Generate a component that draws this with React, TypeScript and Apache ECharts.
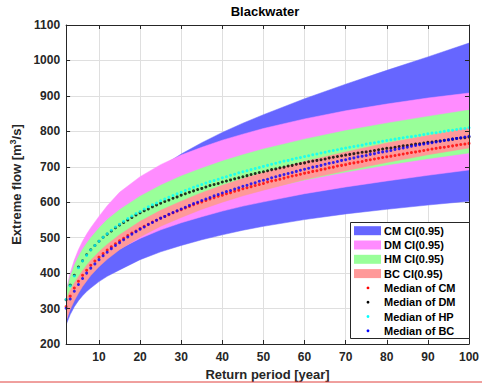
import React, { useEffect, useRef } from 'react';
import * as echarts from 'echarts';

// Return periods (years) at which the medians are plotted
const returnYears: number[] = Array.from({ length: 99 }, (_, i) => i + 2);

// Median quantile estimates [m^3/s], one per return period 2..100
const cmMedian = [
  306, 335, 358, 377, 394, 408, 422, 434, 445, 455,
  465, 474, 483, 491, 498, 506, 513, 519, 526, 532,
  538, 544, 549, 555, 560, 565, 570, 575, 579, 584,
  588, 593, 597, 601, 605, 609, 613, 617, 620, 624,
  627, 631, 634, 638, 641, 644, 647, 650, 653, 657,
  660, 662, 665, 668, 671, 674, 676, 679, 682, 684,
  687, 689, 692, 694, 697, 699, 702, 704, 706, 709,
  711, 713, 715, 718, 720, 722, 724, 726, 728, 730,
  732, 734, 736, 738, 740, 742, 744, 746, 748, 750,
  752, 754, 755, 757, 759, 761, 763, 764, 766,
];
const dmMedian = [
  325, 366, 394, 417, 435, 452, 466, 478, 490, 501,
  510, 519, 528, 536, 543, 550, 557, 564, 570, 576,
  581, 587, 592, 597, 602, 606, 611, 615, 620, 624,
  628, 632, 636, 639, 643, 647, 650, 653, 657, 660,
  663, 666, 669, 672, 675, 678, 681, 684, 686, 689,
  692, 694, 697, 699, 702, 704, 707, 709, 711, 714,
  716, 718, 720, 722, 725, 727, 729, 731, 733, 735,
  737, 739, 741, 742, 744, 746, 748, 750, 752, 753,
  755, 757, 759, 760, 762, 764, 765, 767, 769, 770,
  772, 773, 775, 776, 778, 780, 781, 782, 784,
];
const hpMedian = [
  326, 364, 392, 415, 434, 450, 465, 478, 490, 501,
  511, 521, 530, 538, 546, 554, 561, 568, 574, 581,
  587, 593, 598, 604, 609, 614, 619, 624, 628, 633,
  637, 642, 646, 650, 654, 658, 661, 665, 669, 672,
  676, 679, 683, 686, 689, 692, 695, 698, 701, 704,
  707, 710, 713, 716, 718, 721, 724, 726, 729, 731,
  734, 736, 739, 741, 744, 746, 748, 751, 753, 755,
  757, 759, 761, 764, 766, 768, 770, 772, 774, 776,
  778, 780, 782, 784, 785, 787, 789, 791, 793, 795,
  796, 798, 800, 802, 803, 805, 807, 808, 810,
];
const bcMedian = [
  301, 327, 349, 368, 385, 400, 414, 426, 438, 449,
  459, 469, 478, 486, 494, 502, 510, 517, 524, 530,
  537, 543, 549, 555, 560, 566, 571, 576, 581, 586,
  591, 596, 600, 605, 609, 613, 618, 622, 626, 630,
  633, 637, 641, 645, 648, 652, 655, 659, 662, 665,
  669, 672, 675, 678, 681, 684, 687, 690, 693, 696,
  699, 701, 704, 707, 710, 712, 715, 718, 720, 723,
  725, 728, 730, 732, 735, 737, 740, 742, 744, 746,
  749, 751, 753, 755, 758, 760, 762, 764, 766, 768,
  770, 772, 774, 776, 778, 780, 782, 784, 786,
];

// Confidence-interval bounds, sampled at these return periods
const bandYears = [2, 3, 4, 5, 6, 7, 8, 10, 12, 15, 20, 25, 30, 35, 40, 45, 50, 60, 70, 80, 90, 100];
const cmLower = [254, 283, 305, 322, 336, 348, 358, 376, 391, 409, 438, 460, 478, 494, 508, 521, 532, 551, 567, 580, 592, 603];
const cmUpper = [289, 353, 396, 428, 454, 477, 497, 531, 561, 600, 653, 699, 736, 768, 797, 823, 847, 892, 933, 972, 1010, 1049];
const dmLower = [265, 304, 334, 357, 375, 390, 404, 428, 445, 468, 498, 522, 542, 559, 575, 589, 601, 624, 643, 660, 676, 691];
const dmUpper = [350, 400, 437, 466, 490, 510, 528, 560, 590, 628, 672, 706, 733, 755, 775, 792, 808, 835, 858, 877, 894, 908];
const hmLower = [271, 309, 337, 359, 378, 395, 409, 435, 455, 481, 516, 545, 568, 588, 606, 622, 637, 663, 685, 705, 723, 739];
const hmUpper = [345, 390, 422, 447, 467, 484, 500, 527, 551, 579, 617, 648, 674, 696, 716, 734, 750, 778, 802, 823, 842, 860];
const bcLower = [266, 297, 322, 343, 362, 378, 393, 418, 439, 466, 502, 532, 557, 580, 600, 618, 634, 664, 689, 712, 734, 753];
const bcUpper = [326, 351, 372, 390, 407, 422, 436, 460, 481, 508, 546, 577, 603, 627, 648, 667, 684, 715, 742, 767, 788, 809];

// Axis ticks
const xTicks = [10, 20, 30, 40, 50, 60, 70, 80, 90, 100];

const FONT = '"Liberation Sans", Arial, Helvetica, sans-serif';
const AXIS_COLOR = '#262626';
const GRID_COLOR = '#dfdfdf';

const bands = [
  { name: 'CM CI(0.95)', lo: cmLower, hi: cmUpper, color: '#6666ff' },
  { name: 'DM CI(0.95)', lo: dmLower, hi: dmUpper, color: '#ff8cff' },
  { name: 'HM CI(0.95)', lo: hmLower, hi: hmUpper, color: '#99ff99' },
  { name: 'BC CI(0.95)', lo: bcLower, hi: bcUpper, color: '#ff9999' },
];

const medians = [
  { name: 'Median of CM', values: cmMedian, color: '#ff0000' },
  { name: 'Median of DM', values: dmMedian, color: '#000000' },
  { name: 'Median of HP', values: hpMedian, color: '#00ffff' },
  { name: 'Median of BC', values: bcMedian, color: '#0000ff' },
];

// A filled band between the lower and upper bound, drawn as one polygon
function buildBandSeries(band: { name: string; lo: number[]; hi: number[]; color: string }) {
  return {
    type: 'custom',
    name: band.name,
    silent: true,
    clip: true,
    z: 2,
    encode: { x: 0, y: [1, 2] },
    data: bandYears.map((t, i) => [t, band.lo[i], band.hi[i]]),
    renderItem: (params: any, api: any) => {
      if (params.dataIndex !== 0) return null;
      const n = params.dataInsideLength;
      const lower: number[][] = [];
      const upper: number[][] = [];
      for (let i = 0; i < n; i++) {
        lower.push(api.coord([api.value(0, i), api.value(1, i)]));
        upper.push(api.coord([api.value(0, i), api.value(2, i)]));
      }
      return {
        type: 'polygon',
        shape: { points: lower.concat(upper.reverse()) },
        style: { fill: band.color, stroke: band.color, lineWidth: 0.5 },
      };
    },
  };
}

function buildLegend() {
  const left = 350;
  const top = 222;
  const rowStart = 230.7;
  const rowStep = 14.3;
  const Z = 100;
  const children: any[] = [
    {
      type: 'rect',
      z: Z,
      shape: { x: left + 0.5, y: top + 0.5, width: 119, height: 116 },
      style: { fill: '#ffffff', stroke: AXIS_COLOR, lineWidth: 1 },
    },
  ];
  bands.forEach((b, i) => {
    const cy = rowStart + i * rowStep;
    children.push({
      type: 'rect',
      z: Z + 1,
      shape: { x: 354, y: cy - 4.5, width: 27, height: 9 },
      style: { fill: b.color },
    });
    children.push({
      type: 'text',
      z: Z + 1,
      x: 384,
      y: cy,
      style: { text: b.name, fill: '#000', font: `bold 11px ${FONT}`, verticalAlign: 'middle' },
    });
  });
  medians.forEach((m, j) => {
    const cy = rowStart + (bands.length + j) * rowStep;
    children.push({
      type: 'circle',
      z: Z + 1,
      shape: { cx: 368, cy, r: 1.4 },
      style: { fill: m.color },
    });
    children.push({
      type: 'text',
      z: Z + 1,
      x: 384,
      y: cy,
      style: { text: m.name, fill: '#000', font: `bold 11px ${FONT}`, verticalAlign: 'middle' },
    });
  });
  return { type: 'group', z: Z, children };
}

export default function App() {
  const ref = useRef<HTMLDivElement>(null);

  useEffect(() => {
    if (!ref.current) return;
    const chart = echarts.init(ref.current, undefined, { renderer: 'svg' });

    const labelStyle = { color: AXIS_COLOR, fontWeight: 'bold', fontSize: 12, fontFamily: FONT };
    const boxLine = { show: true, onZero: false, lineStyle: { color: AXIS_COLOR, width: 1 } };
    const tickIn = { show: true, inside: true, length: 4, lineStyle: { color: AXIS_COLOR, width: 1 } };

    const series: any[] = bands.map((b) => buildBandSeries(b));
    medians.forEach((m) =>
      series.push({
        type: 'scatter',
        name: m.name,
        symbol: 'circle',
        symbolSize: 3,
        silent: true,
        itemStyle: { color: m.color },
        data: returnYears.map((t, i) => [t, m.values[i]]),
        z: 3,
      })
    );

    chart.setOption({
      animation: false,
      backgroundColor: '#ffffff',
      title: {
        text: 'Blackwater',
        left: 265,
        top: 5,
        padding: 0,
        textAlign: 'center',
        textStyle: { fontSize: 13, fontWeight: 'bold', color: '#000', fontFamily: FONT },
      },
      grid: { left: 61, right: 12, top: 25, bottom: 42 },
      xAxis: [
        {
          type: 'value',
          min: 2,
          max: 100,
          position: 'bottom',
          z: 10,
          axisLine: boxLine,
          axisTick: { ...tickIn, customValues: xTicks },
          axisLabel: { ...labelStyle, customValues: xTicks, margin: 7 },
          splitLine: { show: false },
          name: 'Return period [year]',
          nameLocation: 'middle',
          nameGap: 24,
          nameTextStyle: { fontSize: 13, fontWeight: 'bold', color: AXIS_COLOR, fontFamily: FONT },
        },
        {
          type: 'value',
          min: 2,
          max: 100,
          position: 'top',
          z: 10,
          axisLine: boxLine,
          axisTick: { ...tickIn, customValues: xTicks },
          axisLabel: { show: false },
          splitLine: { show: false },
        },
        {
          type: 'value',
          min: 2,
          max: 100,
          position: 'bottom',
          z: 0,
          axisLine: { show: false },
          axisTick: { show: false, customValues: xTicks },
          axisLabel: { show: false },
          splitLine: { show: true, lineStyle: { color: GRID_COLOR, width: 1 } },
        },
      ],
      yAxis: [
        {
          type: 'value',
          min: 200,
          max: 1100,
          interval: 100,
          position: 'left',
          z: 10,
          axisLine: boxLine,
          axisTick: tickIn,
          axisLabel: {
            ...labelStyle,
            margin: 6,
            showMinLabel: true,
            showMaxLabel: true,
            formatter: (v: number) => String(v),
          },
          splitLine: { show: false },
          name: '{t|Extreme flow [m}{s|3}{t|/s]}',
          nameLocation: 'middle',
          nameRotate: 90,
          nameGap: 37,
          nameTextStyle: {
            rich: {
              t: { fontSize: 13, fontWeight: 'bold', color: AXIS_COLOR, fontFamily: FONT, lineHeight: 16 },
              s: { fontSize: 9, fontWeight: 'bold', color: AXIS_COLOR, fontFamily: FONT, verticalAlign: 'top', lineHeight: 9 },
            },
          },
        },
        {
          type: 'value',
          min: 200,
          max: 1100,
          interval: 100,
          position: 'right',
          z: 10,
          axisLine: boxLine,
          axisTick: tickIn,
          axisLabel: { show: false },
          splitLine: { show: false },
        },
        {
          type: 'value',
          min: 200,
          max: 1100,
          interval: 100,
          position: 'left',
          z: 0,
          axisLine: { show: false },
          axisTick: { show: false },
          axisLabel: { show: false },
          splitLine: { show: true, lineStyle: { color: GRID_COLOR, width: 1 } },
        },
      ],
      series,
      graphic: [
        buildLegend(),
        {
          type: 'line',
          z: 100,
          shape: { x1: 0, y1: 382, x2: 482, y2: 382 },
          style: { stroke: '#e0403c', lineWidth: 1 },
        },
      ],
    });

    return () => chart.dispose();
  }, []);

  return (
    <div
      ref={ref}
      style={{ position: 'absolute', left: 0, top: 0, width: 482, height: 386, background: '#fff' }}
    />
  );
}
